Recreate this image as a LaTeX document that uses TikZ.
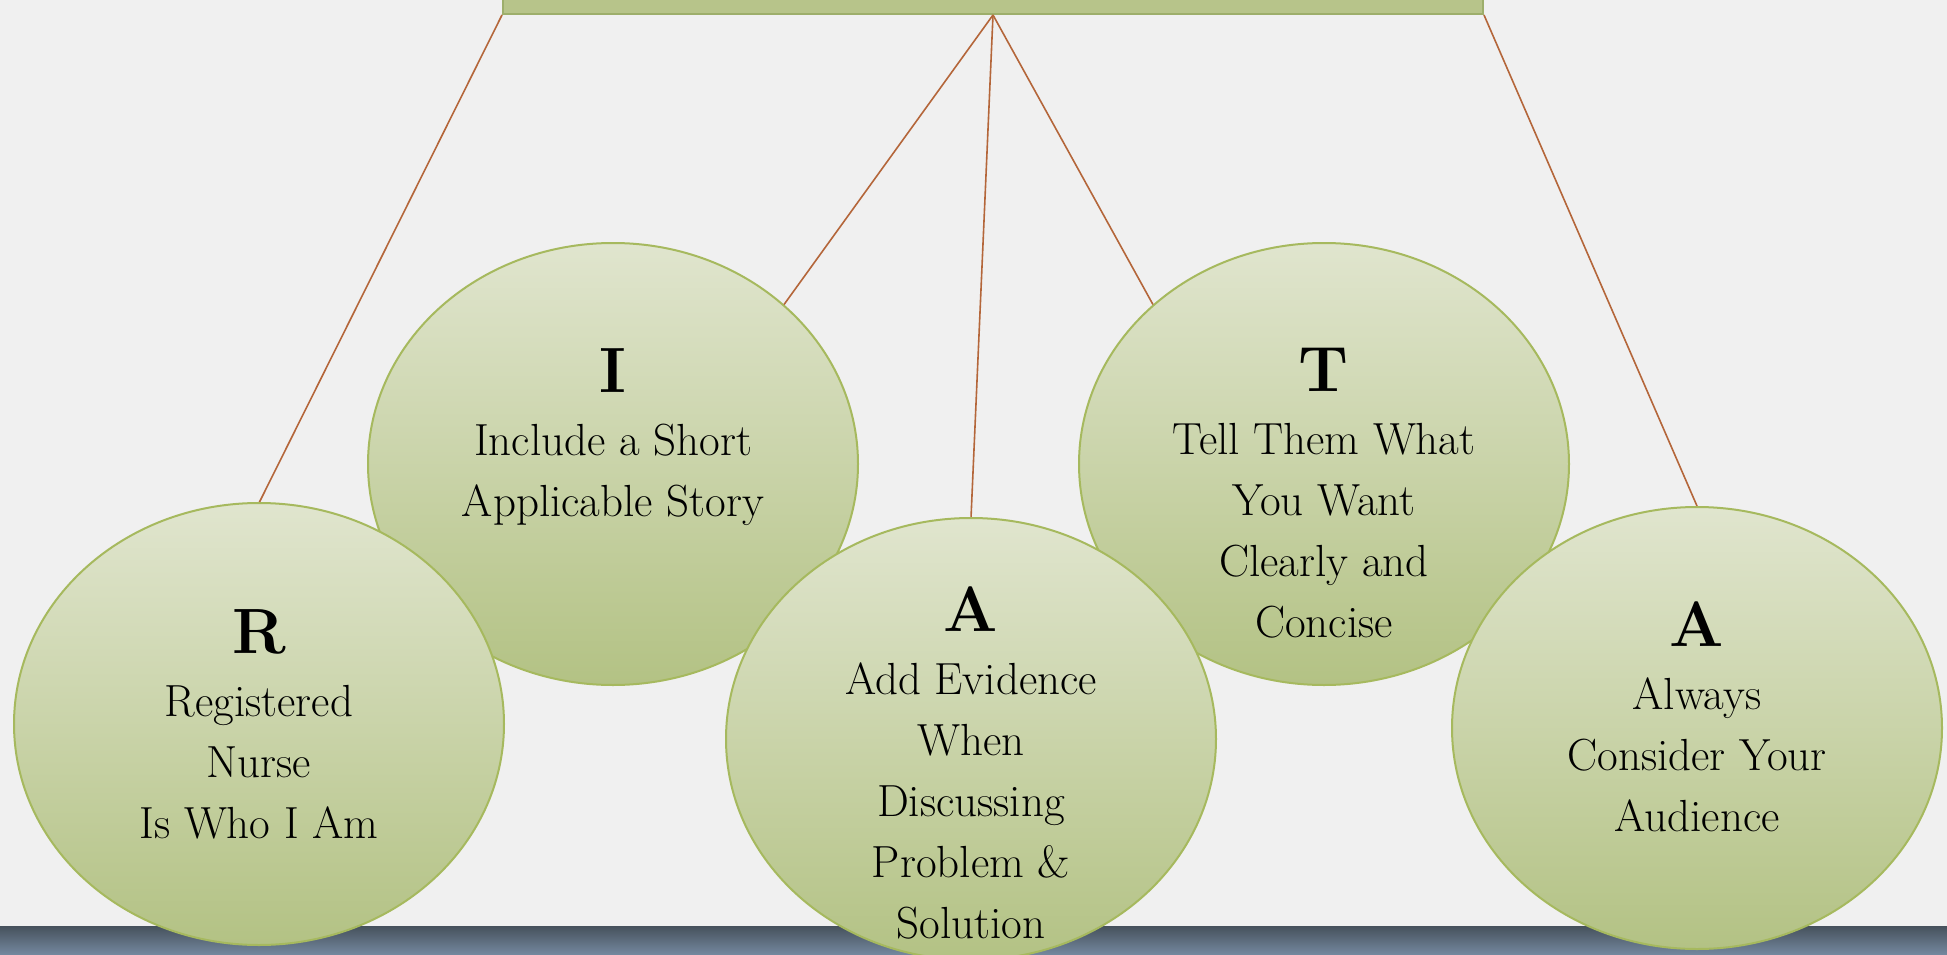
\documentclass[tikz,border=0pt]{standalone}
\usepackage{fontspec}
\setmainfont{Latin Modern Roman}
\usetikzlibrary{shapes.geometric}
\definecolor{paper}    {HTML}{F0F0F0}
\definecolor{bandtop}  {HTML}{46515C}
\definecolor{bandbot}  {HTML}{7589A0}
\definecolor{stemcol}  {HTML}{B4663A}
\definecolor{rim}      {HTML}{A6B95E}
\definecolor{bubbletop}{HTML}{E0E5CE}
\definecolor{bubblebot}{HTML}{B3C284}
\definecolor{boxfill}  {HTML}{B7C48A}
\definecolor{boxrim}   {HTML}{9DAE6B}
\tikzset{ % looks of the boxes, bubbles and their strings
titlebox/.style={rectangle,draw=boxrim,line width=2pt,fill=boxfill,minimum width=980pt,minimum height=110pt,inner sep=0pt},
bubble/.style={ellipse,draw=rim,line width=2pt,top color=bubbletop,bottom color=bubblebot,minimum width=490pt,minimum height=442pt,inner sep=0pt},
stem/.style={draw=stemcol,line width=1.6pt},
caption/.style={align=center,anchor=north,inner sep=0pt,font=\fontsize{45}{61}\selectfont},
}
\newcommand{\bighead}[1]{{\fontsize{64}{61}\selectfont\bfseries #1}}

\begin{document}
\begin{tikzpicture}[x=1pt,y=-1pt]
            \clip (0,0) rectangle (1947,955);
            \fill[paper] (0,0) rectangle (1947,955);
            \shade[top color=bandtop,bottom color=bandbot] (0,926) rectangle (1947,955);
            % title bar, cut by the top edge
            \node[titlebox,anchor=south] (top) at (993,15) {};
            % the five bubbles, back row first
            \node[bubble] (i) at (613,464) {};
            \node[bubble] (t) at (1324,464) {};
            \draw[stem] (top.south) -- (i.43);
            \draw[stem] (top.south) -- (t.137);
            \draw[stem] (top.south west) -- (259,503);
            \draw[stem] (top.south) -- (971,518);
            \draw[stem] (top.south east) -- (1697,506);
            \node[bubble] (r) at (259,724) {};
            \node[bubble] (a) at (971,739) {};
            \node[bubble] (a2) at (1697,728) {};
            % letters and their meaning
            \node[caption] (rtxt) at (259,609) {\bighead{R}\\[2pt]Registered\\Nurse\\Is Who I Am};
            \node[caption] (itxt) at (613,348) {\bighead{I}\\[2pt]Include a Short\\Applicable Story};
            \node[caption] (atxt) at (971,586) {\bighead{A}\\[2pt]Add Evidence\\When\\Discussing\\Problem \&\\Solution};
            \node[caption] (ttxt) at (1324,348) {\bighead{T}\\[2pt]Tell Them What\\You Want\\Clearly and\\Concise};
            \node[caption] (a2txt) at (1697,601) {\bighead{A}\\[2pt]Always\\Consider Your\\Audience};
        \end{tikzpicture}
\end{document}
